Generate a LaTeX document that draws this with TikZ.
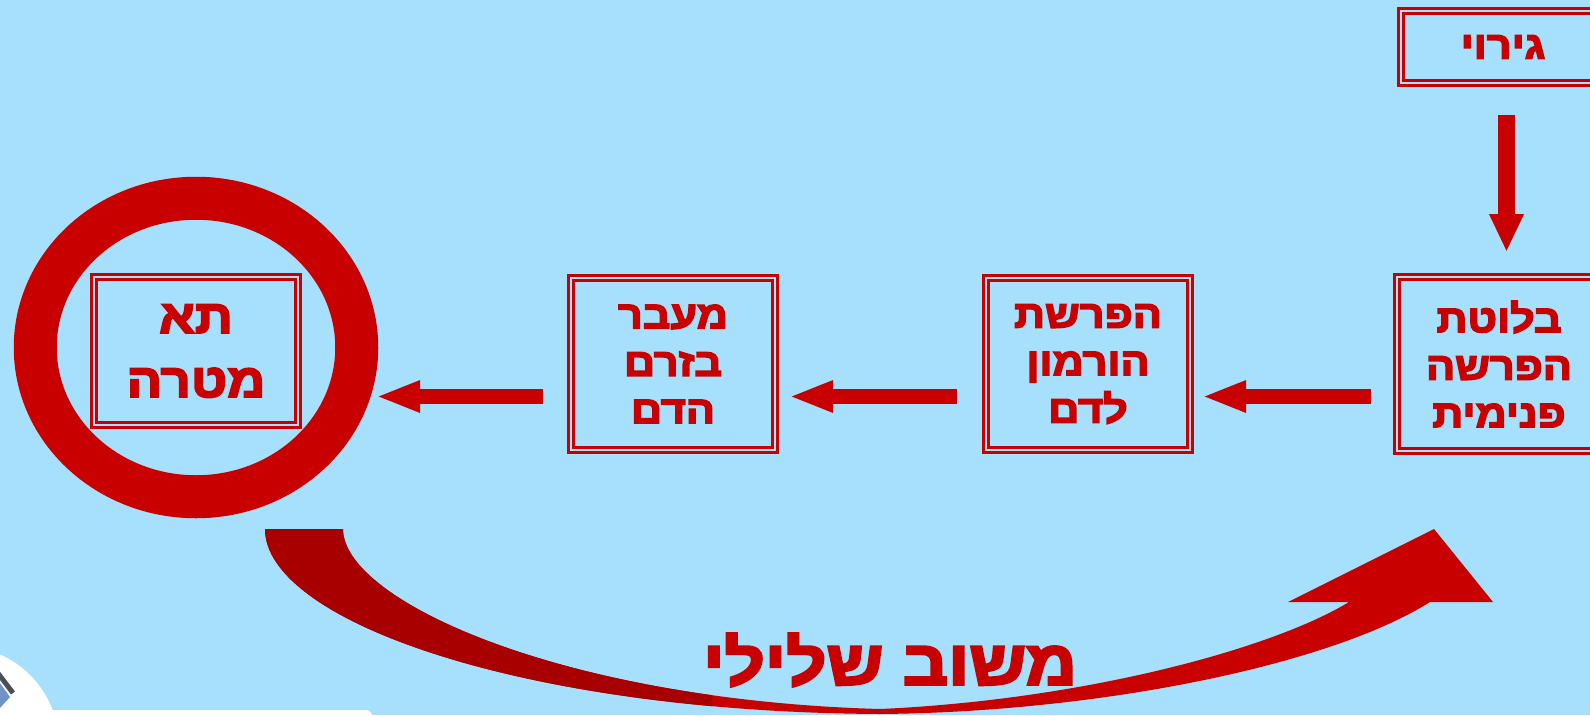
\documentclass[tikz,border=0pt]{standalone}
\usepackage{fontspec}
\usetikzlibrary{arrows.meta,shapes.geometric}
\TeXXeTstate=1
\newfontfamily\hebfont[Script=Hebrew, FakeStretch=1.12, BoldFeatures={FakeBold=4}]{Liberation Sans}
\newcommand{\rl}[1]{\beginR #1\endR}
\definecolor{skybg}{HTML}{A6E0FC}
\definecolor{alarm}{HTML}{C80000}
\definecolor{alarmdark}{HTML}{A80000}
\definecolor{iconline}{HTML}{4A4E58}
\definecolor{iconblue}{HTML}{6F93C8}

\begin{document}
\begin{tikzpicture}[x=1pt,y=-1pt,
  stagebox/.style={draw=alarm, double=skybg, line width=3pt, double distance=2pt,
    minimum width=204pt, inner sep=0pt, outer sep=0pt, align=center, text=alarm,
    font={\hebfont\bfseries\fontsize{38.5}{47.5}\selectfont}},
  flow/.style={draw=alarm, line width=15pt, -{Triangle[length=44pt,width=29pt]}},
  downflow/.style={draw=alarm, line width=17pt, -{Triangle[length=38pt,width=32pt]}},
]
% canvas
\useasboundingbox (0,0) rectangle (1590,715);
\fill[skybg] (0,0) rectangle (1590,715);

% corner of the navigation icon
\fill[white] (-40,745) circle[radius=99];
\fill[white, rounded corners=6pt] (40,710) rectangle (372,730);
\fill[iconblue] (0,683) -- (10,697) -- (0,708) -- cycle;
\draw[iconline, line width=5pt] (-3,672) -- (13,693);

% target cell ring
\node[ellipse, draw=alarm, line width=43pt, minimum width=321.5pt, minimum height=298.5pt,
  inner sep=0pt, outer sep=0pt] (ring) at (196,347.5) {};

% stages
\node[stagebox, minimum height=72pt] (stim) at (1503,47) {\rl{גירוי}};
\node[stagebox, minimum height=174pt] (gland) at (1499,364)
  {\rl{בלוטת}\\\rl{הפרשה}\\\rl{פנימית}};
\node[stagebox, minimum height=172pt] (secr) at (1088,364)
  {\rl{הפרשת}\\\rl{הורמון}\\\rl{לדם}};
\node[stagebox, minimum height=172pt] (blood) at (673,364)
  {\rl{מעבר}\\\rl{בזרם}\\\rl{הדם}};
\node[stagebox, minimum height=148pt, font={\hebfont\bfseries\fontsize{47}{64}\selectfont}]
  (target) at (196,351) {\rl{תא}\\\rl{מטרה}};
\coordinate (ringtip) at (376,396.5);

% flow arrows
\draw[downflow, shorten <=32pt, shorten >=25pt] ([xshift=3.5pt]stim.south) -- ([xshift=7.5pt]gland.north);
\draw[flow, shorten <=26pt, shorten >=12pt] ([yshift=-32.5pt]gland.west) -- ([yshift=-32.5pt]secr.east);
\draw[flow, shorten <=29pt, shorten >=14pt] ([yshift=-32.5pt]secr.west) -- ([yshift=-32.5pt]blood.east);
\draw[flow, shorten <=28pt] ([yshift=-32.5pt]blood.west) -- (ringtip);

% feedback arrow
\path[save path=\feedback]
  (265,529) -- (343,529)
  .. controls (343,600) and (560,700) .. (880,709)
  .. controls (1080,700) and (1270,650) .. (1349,602)
  -- (1288,602) -- (1434,529) -- (1493,602) -- (1430,602)
  .. controls (1330,665) and (1100,712) .. (880,714)
  .. controls (520,712) and (265,620) .. (265,529) -- cycle;
\fill[alarm, use path=\feedback];
\begin{scope}
  \clip (0,0) rectangle (712,715);
  \fill[alarmdark, use path=\feedback];
\end{scope}
\node[text=alarm, font={\hebfont\bfseries\fontsize{63}{70}\selectfont}] (fb) at (890,660)
  {\rl{משוב שלילי}};
\end{tikzpicture}
\end{document}
